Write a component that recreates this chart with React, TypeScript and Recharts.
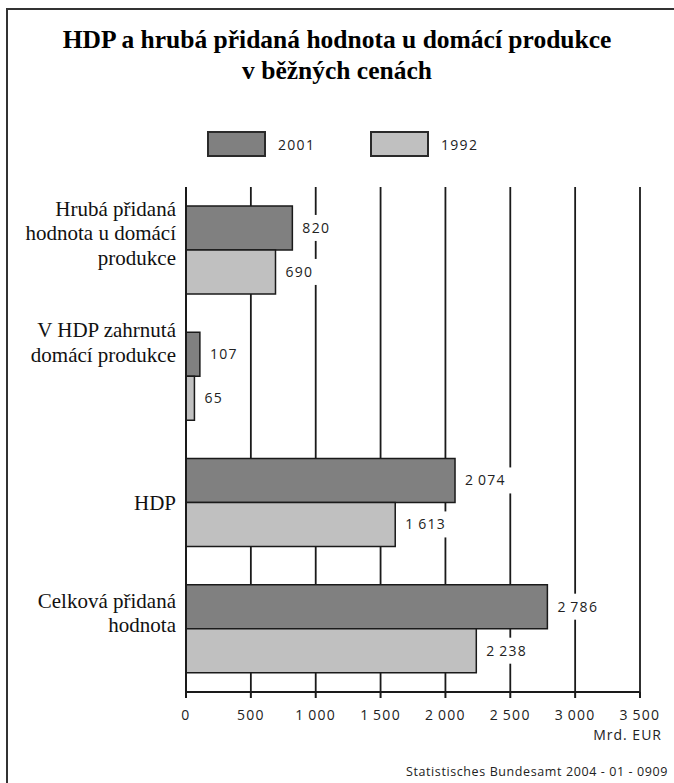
import { BarChart, Bar, XAxis, YAxis, CartesianGrid, LabelList } from 'recharts'

const categories = [
  'Hrubá přidaná\nhodnota u domácí\nprodukce',
  'V HDP zahrnutá\ndomácí produkce',
  'HDP',
  'Celková přidaná\nhodnota',
]
const values2001 = [820, 107, 2074, 2786]
const values1992 = [690, 65, 1613, 2238]
const seriesNames = ['2001', '1992']
const seriesColors = ['#808080', '#c0c0c0']
const xTicks = [0, 500, 1000, 1500, 2000, 2500, 3000, 3500]

const data = categories.map((name, i) => ({ name, v2001: values2001[i], v1992: values1992[i] }))

const sans = '"Open Sans", "DejaVu Sans", sans-serif'
const serif = '"Liberation Serif", "Times New Roman", serif'
const ink = '#1a1a1a'

// thousands with a thin space, e.g. 2 074
const fmt = (n: number) => String(n).replace(/\B(?=(\d{3})+(?!\d))/g, '\u2009')

// the category labels in the original sit a bit higher than the bar pairs
const labelShift = [-17, -34, 0, -16]

function CategoryTick(props: any) {
  const { x, y, payload, index } = props
  const lines = String(payload.value).split('\n')
  const lh = 24.5
  const top = y + (labelShift[index] ?? 0) - ((lines.length - 1) * lh) / 2
  return (
    <text x={x} textAnchor="end" fontFamily={serif} fontSize={21} fill="#111">
      {lines.map((l, i) => (
        <tspan key={i} x={x} y={top + i * lh} dy="0.35em">{l}</tspan>
      ))}
    </text>
  )
}

function ValueLabel(props: any) {
  const { x, y, width, height, value } = props
  const text = fmt(Number(value))
  const cy = y + height / 2
  return (
    <g>
      <rect x={x + width + 2} y={cy - 13} width={text.length * 9.3 + 14} height={26} fill="#fff" />
      <text x={x + width + 10} y={cy} dy="0.35em" fontFamily={sans} fontSize={14} letterSpacing={1.3} fill="#222">
        {text}
      </text>
    </g>
  )
}

const legendLeft = [207, 370]

export default function App() {
  return (
    <div style={{ position: 'absolute', left: 0, top: 0, width: 674, height: 783, overflow: 'hidden', background: '#fff' }}>
      <div style={{ position: 'absolute', left: 6, top: 8, width: 720, height: 820, border: '2px solid #333' }} />

      <div style={{
        position: 'absolute', left: 0, top: 24, width: 674, textAlign: 'center',
        fontFamily: serif, fontWeight: 'bold', fontSize: 25.5, lineHeight: '31px', color: '#000',
      }}>
        HDP a hrubá přidaná hodnota u domácí produkce<br />v běžných cenách
      </div>

      {seriesNames.map((s, i) => (
        <div key={s} style={{ position: 'absolute', left: legendLeft[i], top: 131, display: 'flex', alignItems: 'center' }}>
          <div style={{ width: 59, height: 26, boxSizing: 'border-box', border: '2px solid #2a2a2a', background: seriesColors[i] }} />
          <span style={{ marginLeft: 12, fontFamily: sans, fontSize: 14, letterSpacing: 1.3, color: '#222' }}>{s}</span>
        </div>
      ))}

      <div style={{ position: 'absolute', left: 0, top: 0 }}>
        <BarChart
          width={674}
          height={783}
          data={data}
          layout="vertical"
          margin={{ top: 187, right: 34, left: 0, bottom: 0 }}
          barCategoryGap="15%"
          barGap={0}
        >
          <CartesianGrid horizontal={false} stroke={ink} strokeWidth={1.8} />
          <XAxis
            type="number"
            domain={[0, 3500]}
            ticks={xTicks}
            interval={0}
            tickFormatter={fmt}
            height={91}
            tickSize={6}
            tickMargin={12}
            axisLine={{ stroke: ink, strokeWidth: 2 }}
            tickLine={{ stroke: ink, strokeWidth: 2 }}
            tick={{ fill: '#222', fontSize: 14, fontFamily: sans, letterSpacing: 1.3 }}
          />
          <XAxis
            xAxisId="top"
            orientation="top"
            type="number"
            domain={[0, 3500]}
            height={0}
            tick={false}
            tickLine={false}
            axisLine={{ stroke: ink, strokeWidth: 2 }}
          />
          <YAxis
            type="category"
            dataKey="name"
            width={186}
            interval={0}
            tickSize={0}
            tickMargin={10}
            tickLine={false}
            axisLine={{ stroke: ink, strokeWidth: 2 }}
            tick={<CategoryTick />}
          />
          <Bar dataKey="v2001" name={seriesNames[0]} fill={seriesColors[0]} stroke={ink} strokeWidth={1.5} isAnimationActive={false}>
            <LabelList dataKey="v2001" content={<ValueLabel />} />
          </Bar>
          <Bar dataKey="v1992" name={seriesNames[1]} fill={seriesColors[1]} stroke={ink} strokeWidth={1.5} isAnimationActive={false}>
            <LabelList dataKey="v1992" content={<ValueLabel />} />
          </Bar>
        </BarChart>
      </div>

      <div style={{ position: 'absolute', right: 12, top: 725, lineHeight: '20px', fontFamily: sans, fontSize: 14, letterSpacing: 1, color: '#222' }}>
        Mrd. EUR
      </div>
      <div style={{ position: 'absolute', right: 6, top: 762, lineHeight: '20px', fontFamily: sans, fontSize: 12.5, letterSpacing: 0.6, color: '#222' }}>
        Statistisches Bundesamt 2004 - 01 - 0909
      </div>
    </div>
  )
}
